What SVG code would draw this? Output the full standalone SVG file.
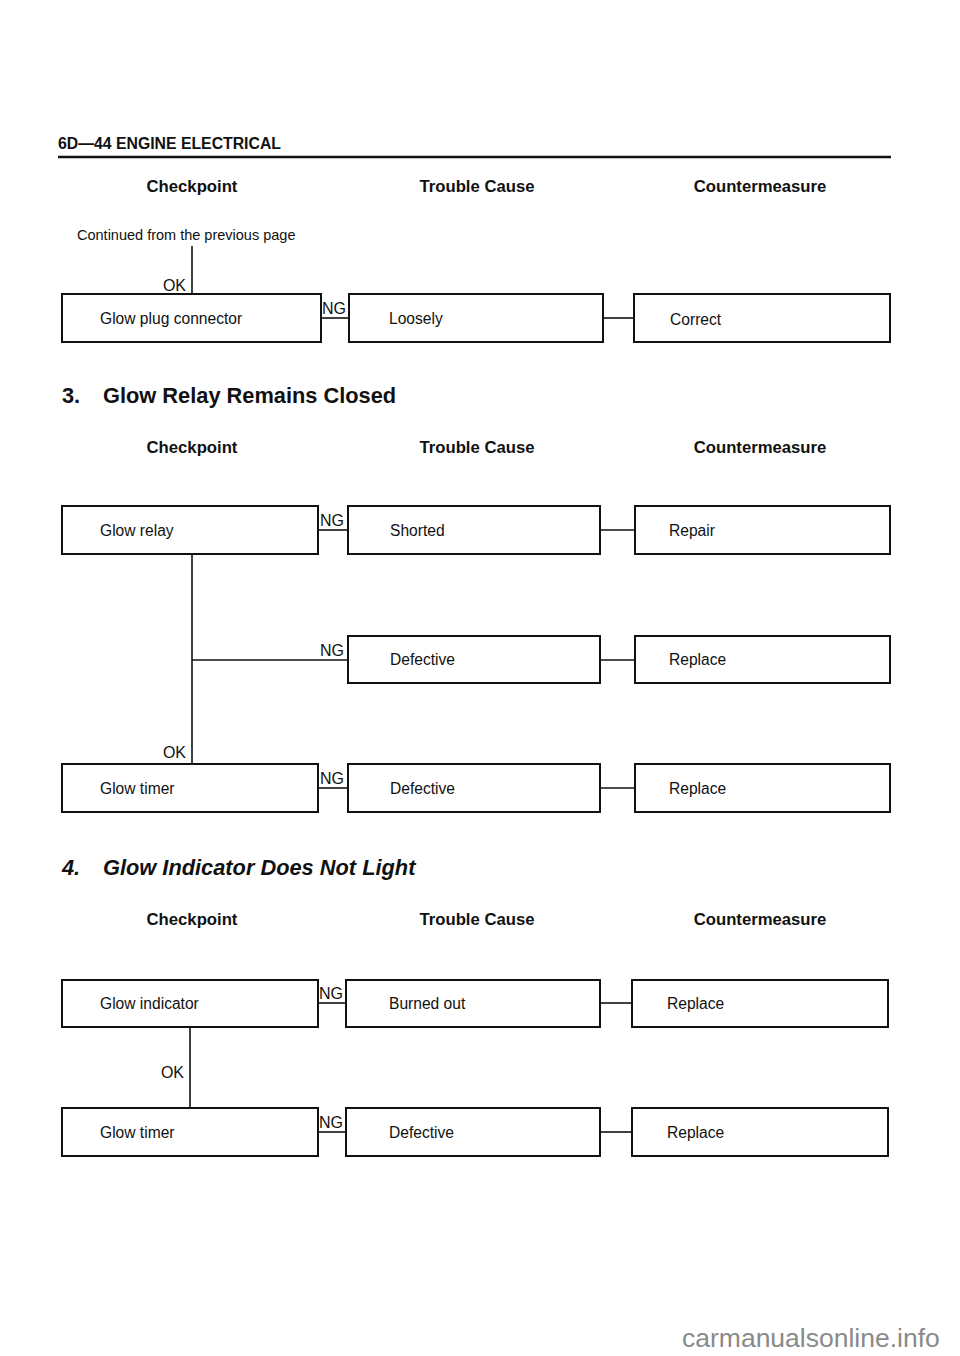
<svg xmlns="http://www.w3.org/2000/svg" width="960" height="1356" viewBox="0 0 960 1356">
<style>
text{font-family:"Liberation Sans",Arial,sans-serif;fill:#111}
.hdr{font-size:15.8px;font-weight:bold}
.col{font-size:16.7px;font-weight:bold;text-anchor:middle}
.lbl{font-size:15.6px}
.cont{font-size:14.5px}
.tag{font-size:16px}
.ttl{font-size:21.8px;font-weight:bold}
.box{fill:#fff;stroke:#111;stroke-width:2}
.ln{stroke:#111;stroke-width:1.6;fill:none}
.wm{font-size:26.5px;fill:#8a8a8a}
</style>
<rect width="960" height="1356" fill="#fff"/>
<text class="hdr" x="58" y="149">6D—44  ENGINE ELECTRICAL</text>
<line x1="58" y1="157" x2="891" y2="157" stroke="#111" stroke-width="2.5"/>

<text class="col" x="192" y="192">Checkpoint</text>
<text class="col" x="477" y="192">Trouble Cause</text>
<text class="col" x="760" y="192">Countermeasure</text>
<text class="cont" x="77" y="240">Continued from the previous page</text>

<g id="connectors">
<line class="ln" x1="192" y1="246" x2="192" y2="294"/>
<line class="ln" x1="321" y1="318" x2="349" y2="318"/>
<line class="ln" x1="603" y1="318" x2="634" y2="318"/>
<line class="ln" x1="318" y1="530" x2="348" y2="530"/>
<line class="ln" x1="600" y1="530" x2="635" y2="530"/>
<line class="ln" x1="192" y1="554" x2="192" y2="764"/>
<line class="ln" x1="192" y1="660" x2="348" y2="660"/>
<line class="ln" x1="600" y1="660" x2="635" y2="660"/>
<line class="ln" x1="318" y1="788" x2="348" y2="788"/>
<line class="ln" x1="600" y1="788" x2="635" y2="788"/>
<line class="ln" x1="318" y1="1003" x2="346" y2="1003"/>
<line class="ln" x1="600" y1="1003" x2="632" y2="1003"/>
<line class="ln" x1="190" y1="1027" x2="190" y2="1108"/>
<line class="ln" x1="318" y1="1132" x2="346" y2="1132"/>
<line class="ln" x1="600" y1="1132" x2="632" y2="1132"/>
<text class="tag" x="186" y="291" text-anchor="end">OK</text>
<text class="tag" x="322" y="314">NG</text>
<text class="tag" x="320" y="526">NG</text>
<text class="tag" x="320" y="656">NG</text>
<text class="tag" x="186" y="758" text-anchor="end">OK</text>
<text class="tag" x="320" y="784">NG</text>
<text class="tag" x="319" y="999">NG</text>
<text class="tag" x="184" y="1078" text-anchor="end">OK</text>
<text class="tag" x="319" y="1128">NG</text>
</g>

<g id="n-glow-plug-connector"><rect class="box" x="62" y="294" width="259" height="48"/><text class="lbl" x="100" y="324">Glow plug connector</text></g>
<g id="n-loosely"><rect class="box" x="349" y="294" width="254" height="48"/><text class="lbl" x="389" y="324">Loosely</text></g>
<g id="n-correct"><rect class="box" x="634" y="294" width="256" height="48"/><text class="lbl" x="670" y="325">Correct</text></g>

<text class="ttl" x="62" y="403">3.</text>
<text class="ttl" x="103" y="403">Glow Relay Remains Closed</text>
<text class="col" x="192" y="453">Checkpoint</text>
<text class="col" x="477" y="453">Trouble Cause</text>
<text class="col" x="760" y="453">Countermeasure</text>

<g id="n-glow-relay"><rect class="box" x="62" y="506" width="256" height="48"/><text class="lbl" x="100" y="536">Glow relay</text></g>
<g id="n-shorted"><rect class="box" x="348" y="506" width="252" height="48"/><text class="lbl" x="390" y="536">Shorted</text></g>
<g id="n-repair"><rect class="box" x="635" y="506" width="255" height="48"/><text class="lbl" x="669" y="536">Repair</text></g>
<g id="n-defective-1"><rect class="box" x="348" y="636" width="252" height="47"/><text class="lbl" x="390" y="665">Defective</text></g>
<g id="n-replace-1"><rect class="box" x="635" y="636" width="255" height="47"/><text class="lbl" x="669" y="665">Replace</text></g>
<g id="n-glow-timer-1"><rect class="box" x="62" y="764" width="256" height="48"/><text class="lbl" x="100" y="794">Glow timer</text></g>
<g id="n-defective-2"><rect class="box" x="348" y="764" width="252" height="48"/><text class="lbl" x="390" y="794">Defective</text></g>
<g id="n-replace-2"><rect class="box" x="635" y="764" width="255" height="48"/><text class="lbl" x="669" y="794">Replace</text></g>

<text class="ttl" x="62" y="875" font-style="italic">4.</text>
<text class="ttl" x="103" y="875" font-style="italic">Glow Indicator Does Not Light</text>
<text class="col" x="192" y="925">Checkpoint</text>
<text class="col" x="477" y="925">Trouble Cause</text>
<text class="col" x="760" y="925">Countermeasure</text>

<g id="n-glow-indicator"><rect class="box" x="62" y="980" width="256" height="47"/><text class="lbl" x="100" y="1009">Glow indicator</text></g>
<g id="n-burned-out"><rect class="box" x="346" y="980" width="254" height="47"/><text class="lbl" x="389" y="1009">Burned out</text></g>
<g id="n-replace-3"><rect class="box" x="632" y="980" width="256" height="47"/><text class="lbl" x="667" y="1009">Replace</text></g>
<g id="n-glow-timer-2"><rect class="box" x="62" y="1108" width="256" height="48"/><text class="lbl" x="100" y="1138">Glow timer</text></g>
<g id="n-defective-3"><rect class="box" x="346" y="1108" width="254" height="48"/><text class="lbl" x="389" y="1138">Defective</text></g>
<g id="n-replace-4"><rect class="box" x="632" y="1108" width="256" height="48"/><text class="lbl" x="667" y="1138">Replace</text></g>

<text class="wm" x="682" y="1347">carmanualsonline.info</text>
</svg>
